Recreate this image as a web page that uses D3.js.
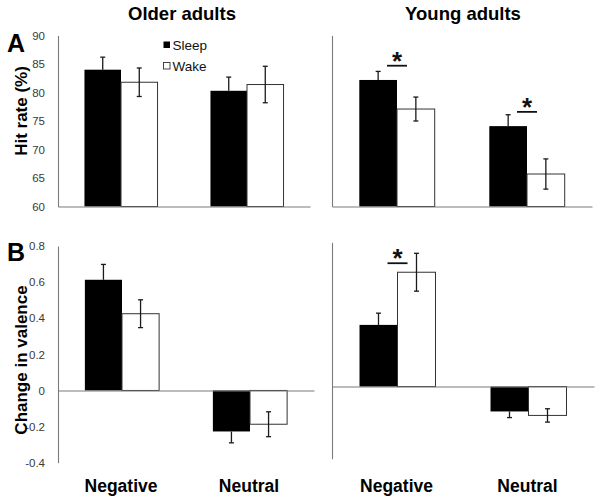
<!DOCTYPE html>
<html><head><meta charset="utf-8">
<script src="https://cdn.jsdelivr.net/npm/d3@7"></script>
<style>
body{margin:0;background:#fff}
svg{display:block}
text{font-family:"Liberation Sans",Arial,Helvetica,sans-serif}
</style>
</head><body>
<svg id="chart" width="600" height="501"></svg>
<script>
// ---------------- data ----------------
const categories = ["Negative", "Neutral"];
const series = ["Sleep", "Wake"];
const groupTitles = ["Older adults", "Young adults"];
const hitTicks = [60, 65, 70, 75, 80, 85, 90];
const valenceTicks = [-0.4, -0.2, 0, 0.2, 0.4, 0.6, 0.8];
const valenceTickLabels = ["-0.4", "-0.2", "0", "0.2", "0.4", "0.6", "0.8"];

// Hit rate (%)
const olderHitSleep = [84.0, 80.3];
const olderHitWake = [81.8, 81.4];
const olderHitSleepErr = [2.2, 2.4];
const olderHitWakeErr = [2.5, 3.2];
const youngHitSleep = [82.2, 74.1];
const youngHitWake = [77.1, 65.7];
const youngHitSleepErr = [1.5, 2.0];
const youngHitWakeErr = [2.1, 2.65];

// Change in valence
const olderValSleep = [0.613, -0.227];
const olderValWake = [0.425, -0.187];
const olderValSleepErr = [0.085, 0.063];
const olderValWakeErr = [0.077, 0.069];
const youngValSleep = [0.342, -0.138];
const youngValWake = [0.634, -0.160];
const youngValSleepErr = [0.065, 0.034];
const youngValWakeErr = [0.105, 0.037];

// significance markers (category, level in data units)
const youngHitSig = [{cat: "Negative", level: 84.7}, {cat: "Neutral", level: 76.6}];
const youngValSig = [{cat: "Negative", level: 0.684}];

// ---------------- layout ----------------
const svg = d3.select("#chart");
const axisColor = "#7a7a7a";
const font = '"Liberation Sans",Arial,Helvetica,sans-serif';

const panels = [
  {sleep: olderHitSleep, wake: olderHitWake, sleepErr: olderHitSleepErr, wakeErr: olderHitWakeErr,
   base: 60, domain: [60, 90], yRange: [206.5, 35.5], xRange: [58, 310],
   ticks: hitTicks, tickLabels: hitTicks.map(String), sig: []},
  {sleep: youngHitSleep, wake: youngHitWake, sleepErr: youngHitSleepErr, wakeErr: youngHitWakeErr,
   base: 60, domain: [60, 90], yRange: [206.5, 35.5], xRange: [332, 592],
   ticks: hitTicks, tickLabels: null, sig: youngHitSig},
  {sleep: olderValSleep, wake: olderValWake, sleepErr: olderValSleepErr, wakeErr: olderValWakeErr,
   base: 0, domain: [-0.4, 0.8], yRange: [462.7, 246], xRange: [58, 314],
   ticks: valenceTicks, tickLabels: valenceTickLabels, sig: []},
  {sleep: youngValSleep, wake: youngValWake, sleepErr: youngValSleepErr, wakeErr: youngValWakeErr,
   base: 0, domain: [-0.4, 0.8], yRange: [458.7, 242.3], xRange: [332, 594],
   ticks: valenceTicks, tickLabels: null, sig: youngValSig}
];

panels.forEach((p) => {
  const g = svg.append("g");
  const x = d3.scaleBand().domain(categories).range(p.xRange).paddingInner(0.42).paddingOuter(0.21);
  const x1 = d3.scaleBand().domain(series).range([0, x.bandwidth()]);
  const y = d3.scaleLinear().domain(p.domain).range(p.yRange);
  p.x = x;

  const rows = [];
  categories.forEach((c, ci) => {
    rows.push({cat: c, s: "Sleep", v: p.sleep[ci], e: p.sleepErr[ci]});
    rows.push({cat: c, s: "Wake", v: p.wake[ci], e: p.wakeErr[ci]});
  });

  // bars
  g.selectAll("rect.bar").data(rows).join("rect")
    .attr("class", "bar")
    .attr("x", d => x(d.cat) + x1(d.s))
    .attr("width", x1.bandwidth())
    .attr("y", d => Math.min(y(d.v), y(p.base)))
    .attr("height", d => Math.abs(y(d.v) - y(p.base)))
    .attr("fill", d => d.s === "Sleep" ? "#000" : "#fff")
    .attr("stroke", d => d.s === "Sleep" ? "none" : "#333")
    .attr("stroke-width", 1);

  // error bars (for black bars only the outer half is visible)
  const eg = g.selectAll("g.err").data(rows).join("g").attr("class", "err")
    .attr("stroke", "#1a1a1a").attr("stroke-width", 1.3);
  const cx = d => x(d.cat) + x1(d.s) + x1.bandwidth() / 2;
  const outer = d => d.v >= p.base ? d.v + d.e : d.v - d.e;
  const inner = d => d.s === "Sleep" ? d.v : (d.v >= p.base ? d.v - d.e : d.v + d.e);
  eg.append("line").attr("x1", cx).attr("x2", cx)
    .attr("y1", d => y(inner(d))).attr("y2", d => y(outer(d)));
  eg.append("line").attr("x1", d => cx(d) - 2.5).attr("x2", d => cx(d) + 2.5)
    .attr("y1", d => y(outer(d))).attr("y2", d => y(outer(d)));
  eg.filter(d => d.s === "Wake").append("line")
    .attr("x1", d => cx(d) - 2.5).attr("x2", d => cx(d) + 2.5)
    .attr("y1", d => y(inner(d))).attr("y2", d => y(inner(d)));

  // y axis
  const yAxis = d3.axisLeft(y).tickSize(0).tickSizeOuter(0).tickPadding(13);
  if (p.tickLabels) {
    yAxis.tickValues(p.ticks).tickFormat((d, i) => p.tickLabels[i]);
  } else {
    yAxis.tickValues([]);
  }
  const ya = g.append("g").attr("transform", `translate(${p.xRange[0]},0)`).call(yAxis);
  ya.select(".domain").attr("stroke", axisColor).attr("stroke-width", 1.1);
  ya.selectAll("text").attr("font-family", font).attr("font-size", 11.5).attr("fill", "#3a3a3a");

  // x axis (baseline)
  const xAxis = d3.axisBottom(x).tickSize(0).tickSizeOuter(0).tickFormat("");
  const xa = g.append("g").attr("transform", `translate(0,${y(p.base)})`).call(xAxis);
  xa.select(".domain").attr("stroke", axisColor).attr("stroke-width", 1.1);

  // significance
  p.sig.forEach(s => {
    const mx = x(s.cat) + x.bandwidth() / 2;
    const ly = y(s.level);
    g.append("line").attr("x1", mx - 10).attr("x2", mx + 10)
      .attr("y1", ly).attr("y2", ly).attr("stroke", "#111").attr("stroke-width", 1.8);
    g.append("text").attr("x", mx).attr("y", ly + 4)
      .attr("text-anchor", "middle").attr("font-size", 26).attr("font-weight", "bold")
      .attr("fill", "#111").text("*");
  });
});

// group titles
groupTitles.forEach((t, i) => {
  svg.append("text").attr("x", i === 0 ? 182 : 463).attr("y", 19.5)
    .attr("text-anchor", "middle").attr("font-size", 18.5).attr("font-weight", "bold")
    .attr("fill", "#000").text(t);
});

// category labels
[panels[2], panels[3]].forEach(p => {
  svg.selectAll(null).data(categories).join("text")
    .attr("x", d => p.x(d) + p.x.bandwidth() / 2 - 1)
    .attr("y", 492)
    .attr("text-anchor", "middle").attr("font-size", 17.5).attr("font-weight", "bold")
    .attr("fill", "#000").text(d => d);
});

// panel letters
svg.append("text").attr("x", 7).attr("y", 52).attr("font-size", 25).attr("font-weight", "bold").text("A");
svg.append("text").attr("x", 7).attr("y", 261).attr("font-size", 25).attr("font-weight", "bold").text("B");

// y-axis titles
svg.append("text").attr("transform", "translate(27,111) rotate(-90)")
  .attr("text-anchor", "middle").attr("font-size", 17).attr("font-weight", "bold").text("Hit rate (%)");
svg.append("text").attr("transform", "translate(27,360) rotate(-90)")
  .attr("text-anchor", "middle").attr("font-size", 17).attr("font-weight", "bold").text("Change in valence");

// legend
const lg = svg.append("g");
series.forEach((s, i) => {
  const yy = 41.5 + i * 21;
  lg.append("rect").attr("x", 163.5).attr("y", yy).attr("width", 6.5).attr("height", 6.5)
    .attr("fill", s === "Sleep" ? "#000" : "#fff").attr("stroke", s === "Sleep" ? "none" : "#333").attr("stroke-width", 0.9);
  lg.append("text").attr("x", 172.5).attr("y", yy + 8).attr("font-size", 13.5).attr("fill", "#111").text(s);
});
</script>
</body></html>
